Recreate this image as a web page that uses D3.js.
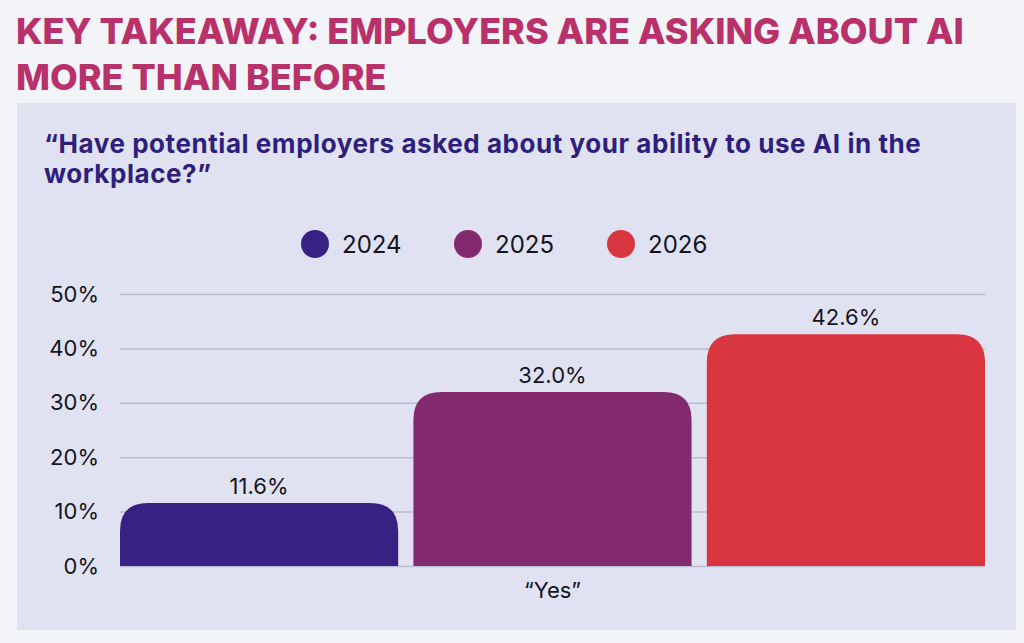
<!DOCTYPE html>
<html lang="en">
<head>
  <meta charset="UTF-8">
  <title>Employers asking about AI</title>
  <script src="https://d3js.org/d3.v7.min.js"></script>
  <style>
    html, body { margin: 0; padding: 0; background: #f3f4f8; }
    svg { display: block; }
  </style>
</head>
<body>
  <svg id="chart" width="1024" height="643"></svg>

  <script>
    // data
    const titleLines = ["KEY TAKEAWAY: EMPLOYERS ARE ASKING ABOUT AI", "MORE THAN BEFORE"];
    const questionLines = ["\u201CHave potential employers asked about your ability to use AI in the", "workplace?\u201D"];
    const years = ["2024", "2025", "2026"];
    const values = [11.6, 32.0, 42.6];
    const colors = ["#372283", "#832a6f", "#d93642"];
    const yTicks = [0, 10, 20, 30, 40, 50];
    const category = "\u201CYes\u201D";

    const svg = d3.select("#chart");
    const font = "Inter, 'Open Sans', sans-serif";

    // page + panel
    svg.append("rect").attr("width", 1024).attr("height", 643).attr("fill", "#f3f4f8");
    svg.append("rect")
      .attr("x", 17).attr("y", 103)
      .attr("width", 999).attr("height", 527)
      .attr("fill", "#e1e2f1");

    // title
    svg.append("g").selectAll("text")
      .data(titleLines)
      .enter().append("text")
      .attr("x", 16)
      .attr("y", (d, i) => 44 + i * 46)
      .attr("fill", "#b8316a")
      .style("font-family", font)
      .style("font-weight", 800)
      .style("font-size", "36px")
      .text(d => d);

    // question
    svg.append("g").selectAll("text")
      .data(questionLines)
      .enter().append("text")
      .attr("x", 44)
      .attr("y", (d, i) => 153 + i * 30)
      .attr("fill", "#2f1f7c")
      .style("font-family", font)
      .style("font-weight", 700)
      .style("font-size", "26px")
      .style("letter-spacing", "0.55px")
      .text(d => d);

    // legend
    const legendX = d3.scalePoint().domain(years).range([315, 621]);
    const legend = svg.append("g").selectAll("g")
      .data(years)
      .enter().append("g")
      .attr("transform", d => `translate(${legendX(d)},244)`);
    legend.append("circle")
      .attr("r", 14)
      .attr("fill", (d, i) => colors[i]);
    legend.append("text")
      .attr("x", 27)
      .attr("y", 9)
      .attr("fill", "#14141f")
      .style("font-family", font)
      .style("font-size", "24px")
      .text(d => d);

    // scales
    const x = d3.scaleBand().domain(years).range([120, 985]).paddingInner(0.052).paddingOuter(0);
    const y = d3.scaleLinear().domain([0, 50]).range([566, 294]);

    // grid + y labels
    const yAxis = svg.append("g")
      .attr("transform", "translate(120,0)")
      .call(d3.axisLeft(y).tickValues(yTicks).tickSize(-865).tickFormat(d => d + "%").tickPadding(21));
    yAxis.select(".domain").remove();
    yAxis.selectAll(".tick line").attr("stroke", "#babdcf").attr("stroke-width", 1.5);
    yAxis.selectAll(".tick text")
      .attr("fill", "#14141f")
      .style("font-family", font)
      .style("font-size", "22px");

    // bars with rounded top corners
    const r = 28;
    function barPath(x0, w, yTop, yBase) {
      const rr = Math.min(r, (yBase - yTop), w / 2);
      return `M${x0},${yBase}` +
        `V${yTop + rr}` +
        `Q${x0},${yTop} ${x0 + rr},${yTop}` +
        `H${x0 + w - rr}` +
        `Q${x0 + w},${yTop} ${x0 + w},${yTop + rr}` +
        `V${yBase}Z`;
    }

    svg.append("g").selectAll("path")
      .data(values)
      .enter().append("path")
      .attr("d", (d, i) => barPath(x(years[i]), x.bandwidth(), y(d), y(0)))
      .attr("fill", (d, i) => colors[i]);

    // value labels
    svg.append("g").selectAll("text")
      .data(values)
      .enter().append("text")
      .attr("x", (d, i) => x(years[i]) + x.bandwidth() / 2)
      .attr("y", d => y(d) - 9)
      .attr("text-anchor", "middle")
      .attr("fill", "#14141f")
      .style("font-family", font)
      .style("font-size", "22px")
      .text(d => d.toFixed(1) + "%");

    // category label
    svg.append("text")
      .attr("x", (x.range()[0] + x.range()[1]) / 2)
      .attr("y", 598)
      .attr("text-anchor", "middle")
      .attr("fill", "#14141f")
      .style("font-family", font)
      .style("font-size", "22px")
      .text(category);
  </script>
</body>
</html>
